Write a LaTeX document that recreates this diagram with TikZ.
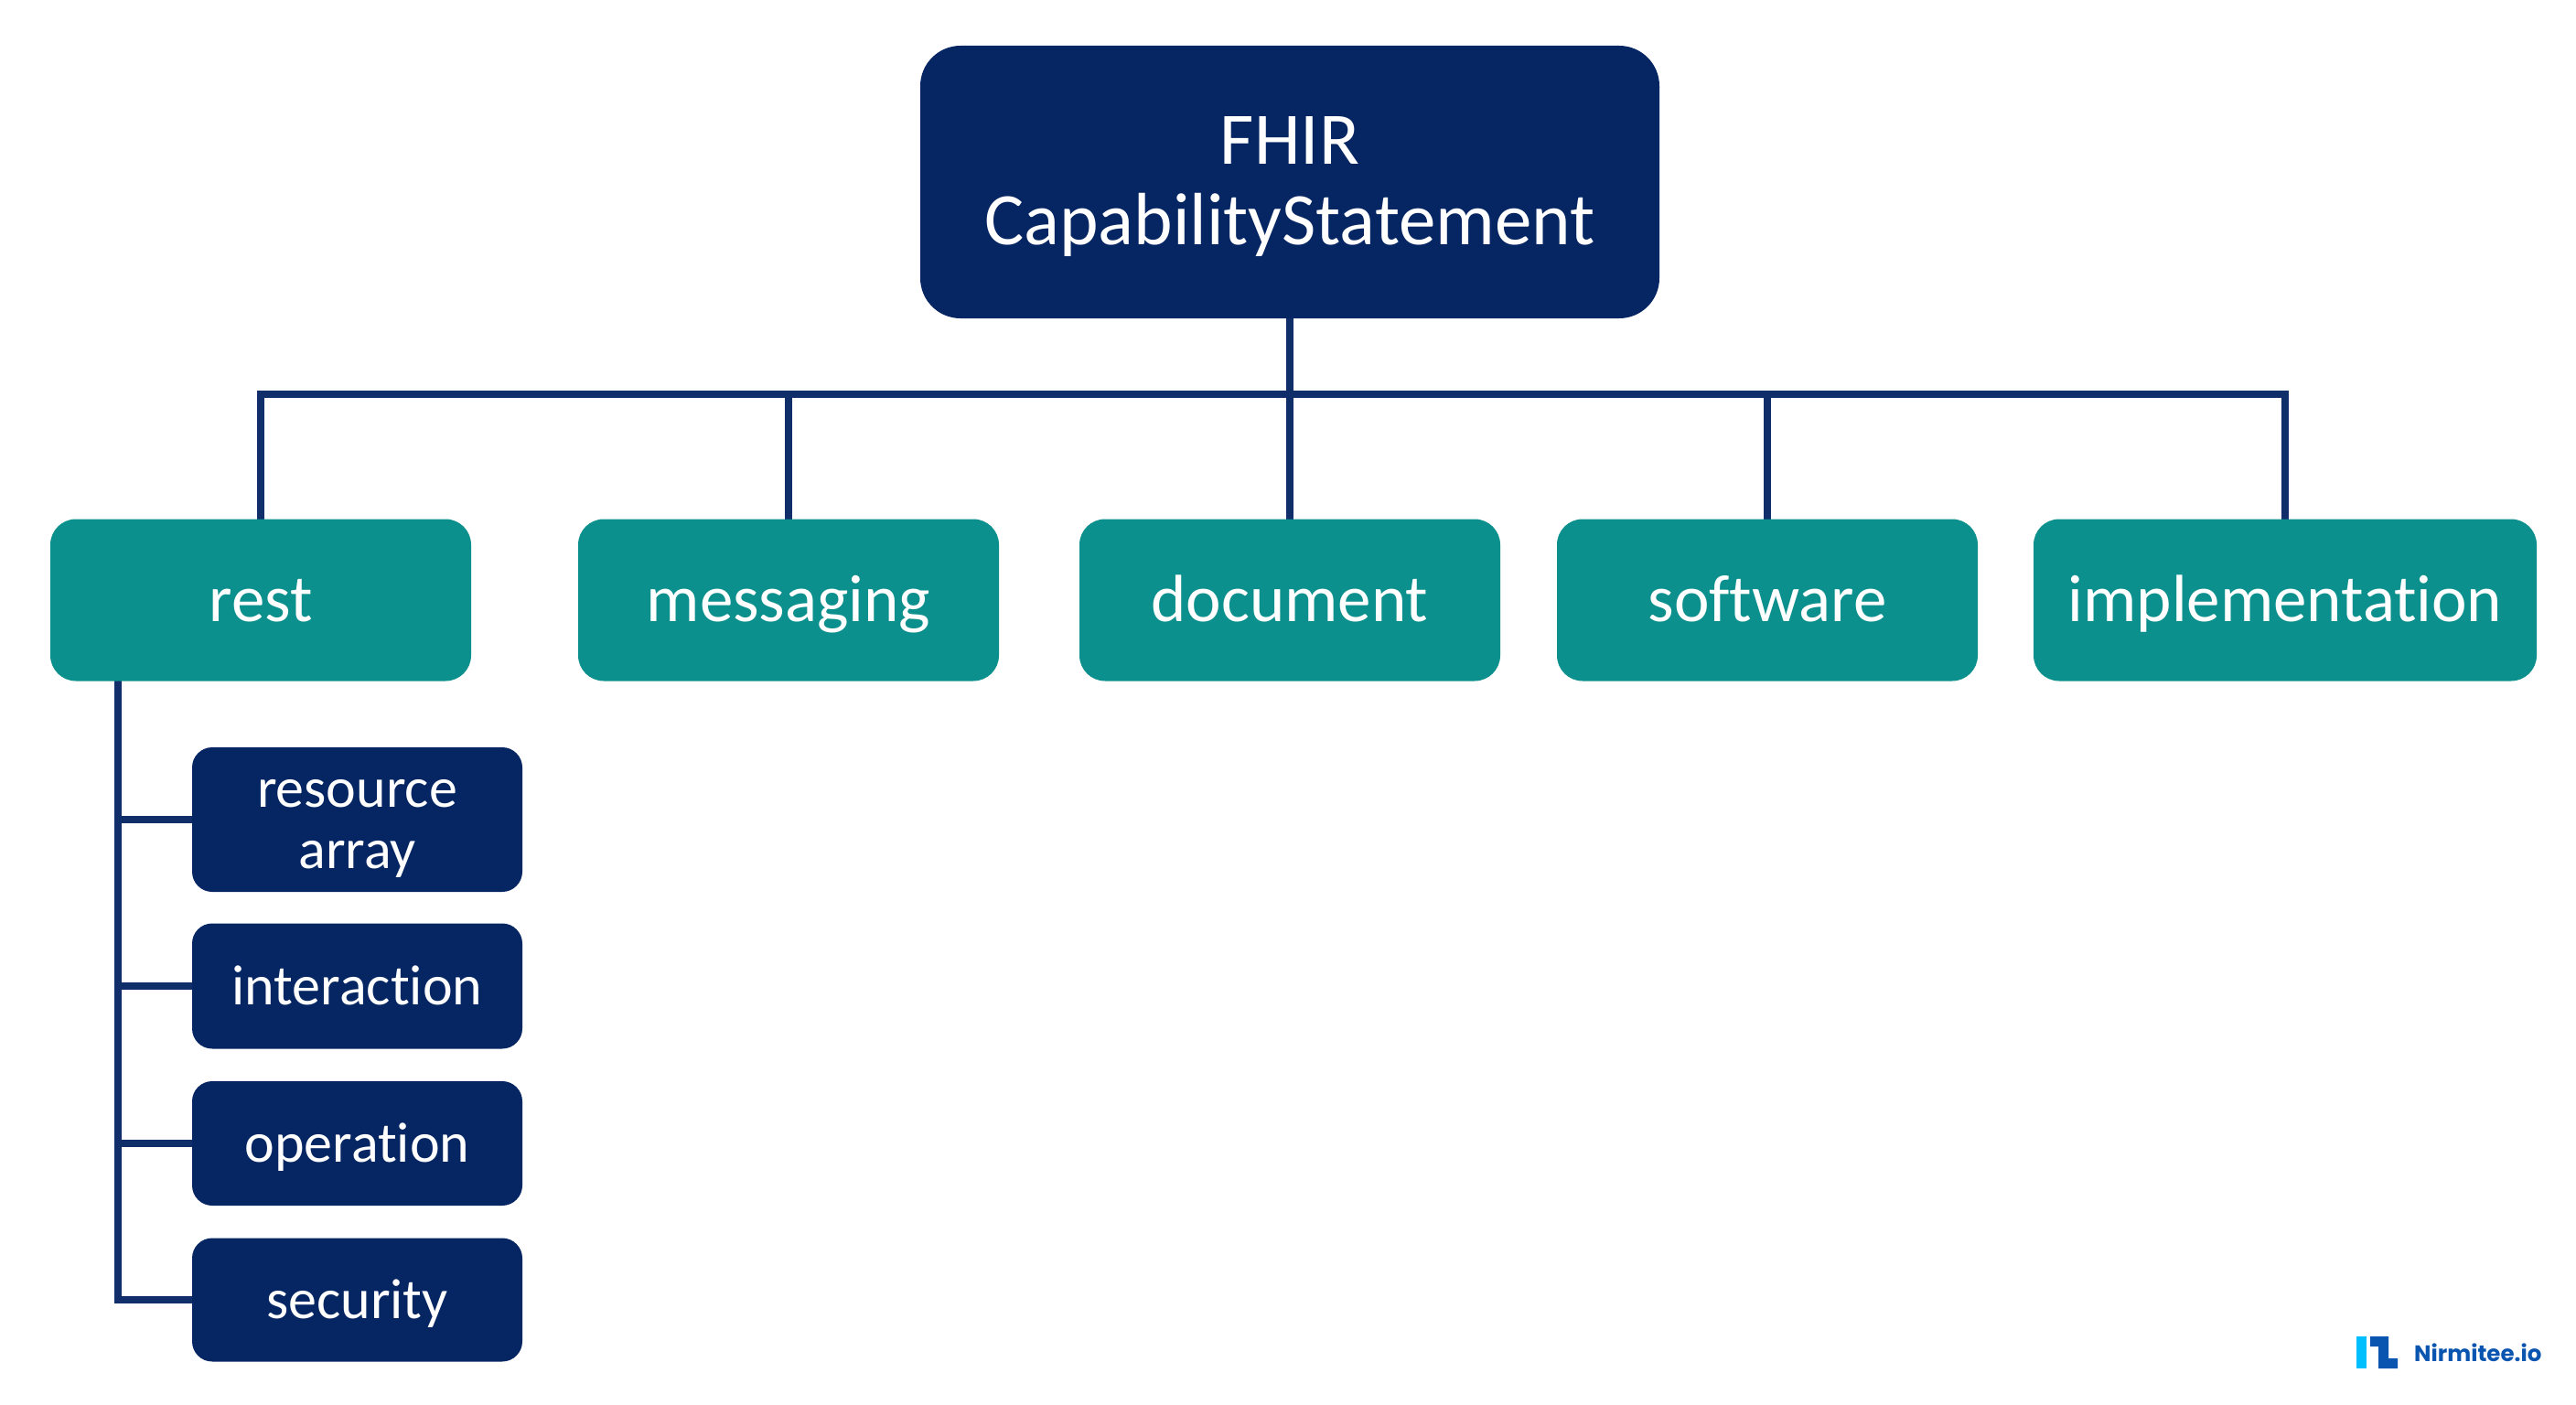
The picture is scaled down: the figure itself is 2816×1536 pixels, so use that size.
\documentclass[tikz,border=0pt]{standalone}
\usepackage{fontspec}
\setmainfont[RawFeature={-liga;-clig;-dlig}]{Carlito}
\newfontfamily\logofont{Poppins}
\definecolor{navy}{HTML}{052662}
\definecolor{tealbox}{HTML}{0C908D}
\definecolor{linkblue}{HTML}{0F2E6A}
\definecolor{logolight}{HTML}{00BFFF}
\definecolor{logodark}{HTML}{0A55B0}
\tikzset{
  boxbase/.style={anchor=center,inner sep=0pt,outer sep=0pt,align=center,text=white,rounded corners=#1},
  rootbox/.style={boxbase=44pt,fill=navy,minimum width=808pt,minimum height=298pt,font=\fontsize{81}{88}\selectfont},
  tealnode/.style={boxbase=28pt,fill=tealbox,minimum height=177pt,text height=60pt,text depth=14pt,font=\fontsize{73}{78}\selectfont},
  subbox/.style={boxbase=22pt,fill=navy,minimum width=361pt,font=\fontsize{62}{67}\selectfont},
  subone/.style={subbox,text height=53pt,text depth=13pt},
  conn/.style={draw=linkblue,line width=8.5pt,line join=miter},
}
\begin{document}
\begin{tikzpicture}[x=1pt,y=-1pt]
\useasboundingbox (0,0) rectangle (2816,1536);
\fill[white] (0,0) rectangle (2816,1536);
\coordinate (bus) at (1410,431);
\coordinate (trunk) at (129,744);
\node[rootbox,fill=none,opacity=0] (root) at (1410,199) {};
\node[tealnode,minimum width=460pt,fill=none,opacity=0] (rest) at (285,656) {};
\node[tealnode,minimum width=460pt,fill=none,opacity=0] (messaging) at (862,656) {};
\node[tealnode,minimum width=460pt,fill=none,opacity=0] (document) at (1410,656) {};
\node[tealnode,minimum width=460pt,fill=none,opacity=0] (software) at (1932,656) {};
\node[tealnode,minimum width=550pt,fill=none,opacity=0] (implementation) at (2498,656) {};
\node[subbox,minimum height=158pt,fill=none,opacity=0] (resource) at (390.5,896) {};
\node[subbox,minimum height=137pt,fill=none,opacity=0] (interaction) at (390.5,1078) {};
\node[subbox,minimum height=136pt,fill=none,opacity=0] (operation) at (390.5,1250) {};
\node[subbox,minimum height=135pt,fill=none,opacity=0] (security) at (390.5,1421) {};
\draw[conn] (root.south) -- (document.north);
\draw[conn] (rest.north) -- (rest.north |- bus) -- (implementation.north |- bus) -- (implementation.north);
\draw[conn] (messaging.north |- bus) -- (messaging.north);
\draw[conn] (software.north |- bus) -- (software.north);
\draw[conn] (trunk) |- (security.west);
\draw[conn] (trunk |- resource.west) -- (resource.west);
\draw[conn] (trunk |- interaction.west) -- (interaction.west);
\draw[conn] (trunk |- operation.west) -- (operation.west);
\node[rootbox] at (root) {\rule{0pt}{63pt}FHIR\\CapabilityStatement};
\node[tealnode,minimum width=460pt] at (rest) {rest};
\node[tealnode,minimum width=460pt] at (messaging) {messaging};
\node[tealnode,minimum width=460pt] at (document) {document};
\node[tealnode,minimum width=460pt] at (software) {software};
\node[tealnode,minimum width=550pt] at (implementation) {implementation};
\node[subbox,minimum height=158pt] at (resource) {\rule{0pt}{50pt}resource\\array};
\node[subone,minimum height=137pt] at (interaction) {interaction};
\node[subone,minimum height=136pt] at (operation) {operation};
\node[subone,minimum height=135pt] at (security) {security};
\fill[logolight] (2576,1461) rectangle (2587,1496);
\fill[logodark] (2591,1461) -- (2611,1461) -- (2611,1485) -- (2621,1485) -- (2621,1496) -- (2600,1496) -- (2600,1472) -- (2591,1472) -- cycle;
\node[anchor=base west,inner sep=0pt,text=logodark,font=\logofont\bfseries\fontsize{24.5}{30}\selectfont] (logotext) at (2639,1488) {Nirmitee.io};
\end{tikzpicture}
\end{document}
